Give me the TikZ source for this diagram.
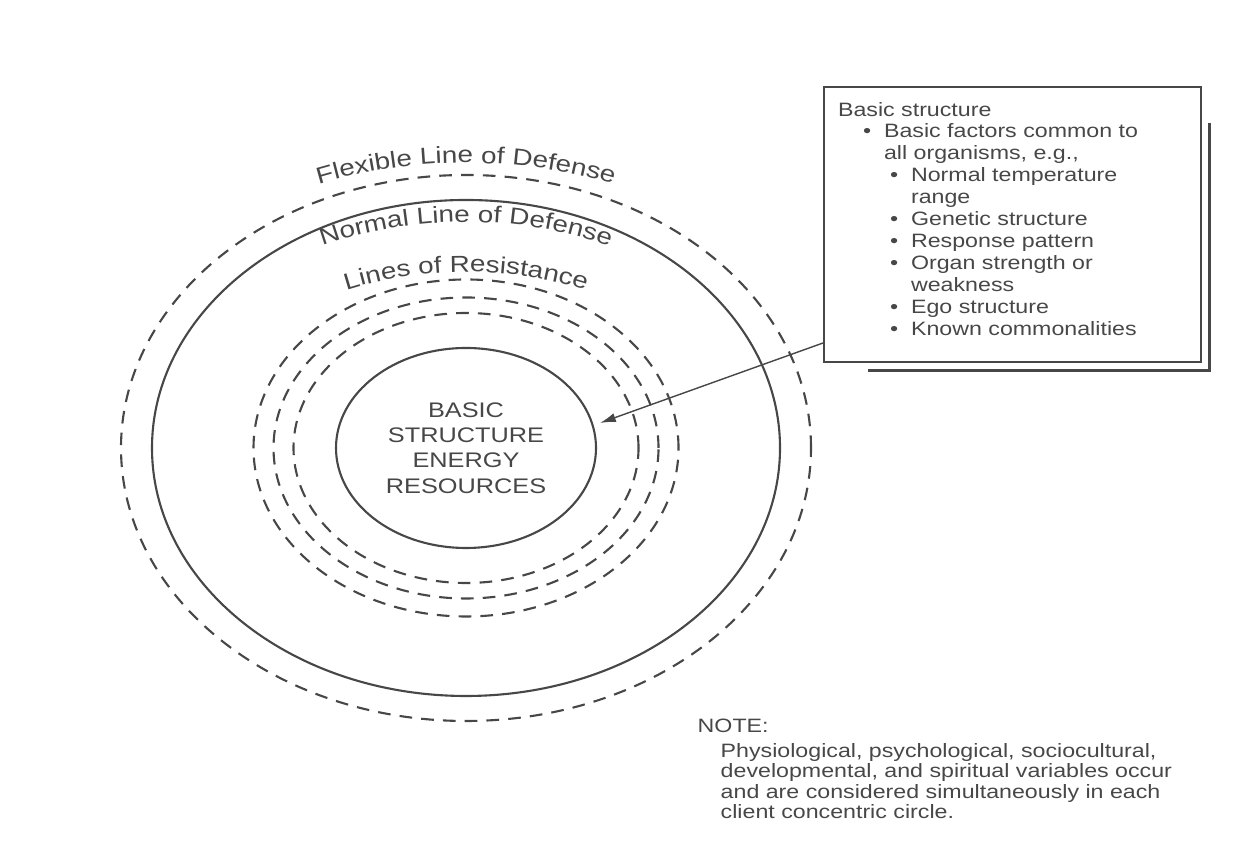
\documentclass[tikz,border=0pt]{standalone}
\usepackage{fontspec}
\usepackage{tikz}
\usetikzlibrary{arrows.meta, positioning, shapes.geometric, decorations.text, calc}

\newfontfamily\scanfont[FakeStretch=1.2]{Liberation Sans}
\newcommand{\boxfont}{\scanfont\fontsize{5.5}{6.24}\selectfont}
\newcommand{\notefont}{\scanfont\fontsize{5.5}{5.75}\selectfont}
\newcommand{\corefont}{\scanfont\fontsize{6}{7.2}\selectfont}
\newcommand{\ringfont}{\scanfont\fontsize{6.6}{8}\selectfont}
\newcommand{\bulA}{\hspace*{0.25cm}\makebox[0.21cm][l]{\textbullet}}
\newcommand{\bulB}{\hspace*{0.52cm}\makebox[0.21cm][l]{\textbullet}}
\newcommand{\contA}{\hspace*{0.46cm}}
\newcommand{\contB}{\hspace*{0.73cm}}
\definecolor{ink}{HTML}{474747}

\begin{document}
\begin{tikzpicture}[
  ring/.style={draw=ink, line width=0.6pt},
  dashring/.style={ring, dash pattern=on 3.6pt off 2.6pt},
  ringlabel/.style={decorate, decoration={text along path, text align=center, text color=ink}},
  arr/.style={-{Latex[length=4.5pt, width=2.6pt]}, draw=ink, fill=ink, line width=0.4pt}
]
\useasboundingbox (0,0) rectangle (12.48,8.44);
\coordinate (c) at (4.66,3.96);
\draw[dashring] (c) ellipse [x radius=3.45, y radius=2.73];
\draw[ring] (c) ellipse [x radius=3.14, y radius=2.48];
\draw[dashring] (c) ellipse [x radius=2.125, y radius=1.685];
\draw[dashring] (c) ellipse [x radius=1.925, y radius=1.505];
\draw[dashring] (c) ellipse [x radius=1.725, y radius=1.35];
\node[ellipse, ring, minimum width=2.6cm, minimum height=2.0cm, inner sep=0, align=center, font=\corefont, text=ink] (core) at (c) {BASIC\\STRUCTURE\\ENERGY\\RESOURCES};
\path[ringlabel, decoration={text={|\ringfont|Flexible Line of Defense}}] ($(c)+(160:3.9 and 2.85)$) arc[start angle=160, end angle=20, x radius=3.9, y radius=2.85];
\path[ringlabel, decoration={text={|\ringfont|Normal Line of Defense}}] ($(c)+(160:3.2 and 2.26)$) arc[start angle=160, end angle=20, x radius=3.2, y radius=2.26];
\path[ringlabel, decoration={text={|\ringfont|Lines of Resistance}}] ($(c)+(160:2.7 and 1.76)$) arc[start angle=160, end angle=20, x radius=2.7, y radius=1.76];
\node[draw=ink, line width=0.6pt, anchor=north west, text width=3.49cm, inner xsep=0.14cm, inner ysep=0.15cm, text depth=2.31cm, align=left, font=\boxfont, text=ink] (factors) at (8.23,7.58) {Basic structure\\
\bulA Basic factors common to\\
\contA all organisms, e.g.,\\
\bulB Normal temperature\\
\contB range\\
\bulB Genetic structure\\
\bulB Response pattern\\
\bulB Organ strength or\\
\contB weakness\\
\bulB Ego structure\\
\bulB Known commonalities};
\draw[ink, line width=0.8pt] ([shift={(0.07,-0.37)}]factors.north east) -- ([shift={(0.07,-0.07)}]factors.south east) -- ([shift={(0.45,-0.07)}]factors.south west);
\coordinate (tip) at (6.00,4.21);
\draw[arr] (factors.212) -- (tip);
\node[anchor=base west, inner sep=0, font=\notefont, text=ink] (note) at (6.97,1.11) {NOTE:};
\node[anchor=north west, inner sep=0, align=left, font=\notefont, text=ink] (notebody) at (7.20,1.01) {Physiological, psychological, sociocultural,\\developmental, and spiritual variables occur\\and are considered simultaneously in each\\client concentric circle.};
\end{tikzpicture}
\end{document}
